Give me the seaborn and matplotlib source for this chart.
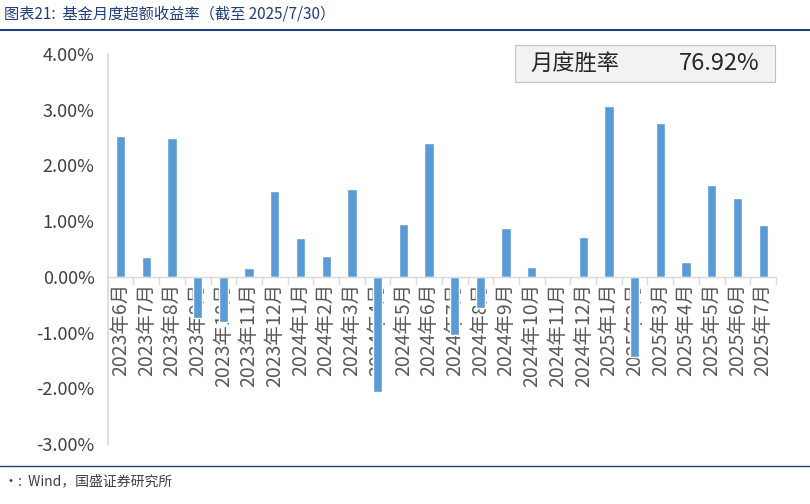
import matplotlib
matplotlib.use("Agg")
import matplotlib.pyplot as plt
import matplotlib.patches as mpatches
import seaborn as sns
import pandas as pd

months = ["2023年6月", "2023年7月", "2023年8月", "2023年9月", "2023年10月", "2023年11月",
          "2023年12月", "2024年1月", "2024年2月", "2024年3月", "2024年4月", "2024年5月",
          "2024年6月", "2024年7月", "2024年8月", "2024年9月", "2024年10月", "2024年11月",
          "2024年12月", "2025年1月", "2025年2月", "2025年3月", "2025年4月", "2025年5月",
          "2025年6月", "2025年7月"]
excess = [2.52, 0.36, 2.50, -0.74, -0.81, 0.15, 1.54, 0.70, 0.37, 1.58, -2.07, 0.94,
          2.41, -1.04, -0.56, 0.87, 0.17, 0.02, 0.72, 3.06, -1.44, 2.76, 0.26, 1.64,
          1.42, 0.93]
win_rate = "76.92%"

sns.set_theme(style="white")
plt.rcParams["font.family"] = ["Noto Sans CJK SC", "DejaVu Sans"]

df = pd.DataFrame({"month": months, "val": excess})
fig = plt.figure(figsize=(8.1, 5.04), dpi=100)
ax = fig.add_axes([0.133, 0.119, 0.825, 0.774])

# month labels sit on the zero line, bars drawn over them
for i, m in enumerate(months):
    ax.text(i, -0.1, m, rotation=90, ha="center", va="top", fontsize=14,
            color="#595959", zorder=1)

sns.barplot(data=df, x="month", y="val", color="#5b9bd5", width=0.36,
            saturation=1, ax=ax, zorder=2)
ax.set_ylim(-3, 4)
ax.set_xlim(-0.5, len(months) - 0.5)
ax.set_yticks([-3, -2, -1, 0, 1, 2, 3, 4])
ax.set_yticklabels([f"{v:.2f}%" for v in [-3, -2, -1, 0, 1, 2, 3, 4]],
                   fontsize=13, color="#404040")
ax.set_xticks([])
ax.set_xlabel("")
ax.set_ylabel("")
for s in ["top", "right", "bottom"]:
    ax.spines[s].set_visible(False)
ax.spines["left"].set_color("#d9d9d9")
ax.axhline(0, color="#d9d9d9", lw=1, zorder=3)
for i in range(len(months) + 1):
    ax.plot([i - 0.5, i - 0.5], [0, -0.12], color="#d9d9d9", lw=1, zorder=3, clip_on=False)

# win-rate box (figure coords, over the bars)
box = mpatches.Rectangle((515 / 810, 1 - 82 / 504), 260 / 810, 37 / 504,
                         transform=fig.transFigure, fc="#f2f2f2", ec="#bfbfbf",
                         lw=0.8, zorder=10)
fig.add_artist(box)
fig.text(530 / 810, 1 - 64 / 504, "月度胜率", fontsize=16, color="#262626",
         va="center", zorder=11)
fig.text(760 / 810, 1 - 64 / 504, win_rate, fontsize=17, color="#262626",
         va="center", ha="right", zorder=11)

fig.text(0.005, 0.972, "图表21:  基金月度超额收益率（截至 2025/7/30）", fontsize=11,
         color="#1f3f7a", style="italic", va="center")
fig.add_artist(plt.Line2D([0, 1], [0.94, 0.94], color="#1f3f7a", lw=1.5))
fig.add_artist(plt.Line2D([0, 1], [0.075, 0.075], color="#1f3f7a", lw=1))
fig.text(0.005, 0.045, "·:  Wind，国盛证券研究所", fontsize=10, color="#404040",
         style="italic", va="center")

fig.savefig("out.png", dpi=100)
